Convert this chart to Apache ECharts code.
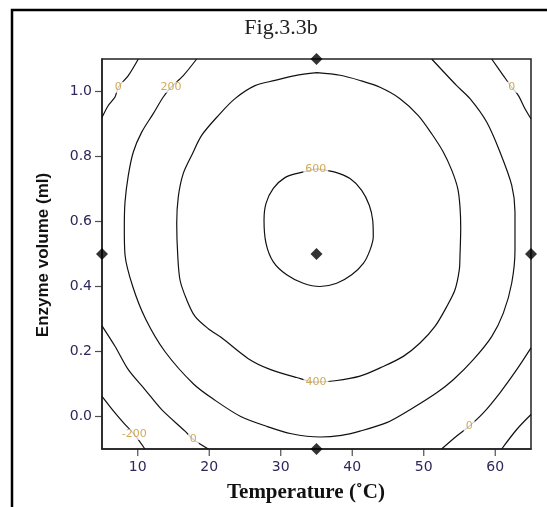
<!DOCTYPE html>
<html>
<head>
<meta charset="utf-8">
<script src="https://cdn.jsdelivr.net/npm/echarts@6.0.0/dist/echarts.min.js"></script>
<style>
  html, body { margin: 0; padding: 0; background: #fff; }
  #chart { width: 547px; height: 507px; }
</style>
</head>
<body>
<div id="chart"></div>
<script>
// axis ranges and tick values
var xRange = [5, 65]
var yRange = [-0.1, 1.1]
var xTicks = [10, 20, 30, 40, 50, 60]
var yTicks = [0, 0.2, 0.4, 0.6, 0.8, 1.0]

// design points (diamonds)
var designX = [35, 5, 35, 65, 35]
var designY = [1.1, 0.5, 0.5, 0.5, -0.1]

// contour lines: [temperature, enzyme volume]
var contour600 = [[35, 0.762], [37.59, 0.752], [39.69, 0.732], [41.32, 0.696], [42.38, 0.65], [42.86, 0.604], [42.94, 0.553], [42.48, 0.512], [41.55, 0.471], [39.92, 0.436], [37.83, 0.41], [35.49, 0.4], [33.15, 0.41], [30.83, 0.436], [28.96, 0.476], [27.94, 0.533], [27.66, 0.604], [27.94, 0.656], [28.96, 0.702], [30.59, 0.735], [32.45, 0.749], [35, 0.762]]
var contour400 = [[35.07, 1.058], [38.3, 1.05], [41.08, 1.034], [43.88, 1.013], [46.68, 0.978], [49.24, 0.926], [51.11, 0.87], [52.73, 0.814], [53.91, 0.758], [54.75, 0.702], [55.07, 0.645], [55.17, 0.579], [55.07, 0.497], [54.97, 0.451], [54.37, 0.39], [53.21, 0.338], [51.57, 0.277], [49.48, 0.226], [47.14, 0.185], [44.34, 0.154], [41.08, 0.124], [37.59, 0.11], [34.93, 0.106], [32.23, 0.12], [28.5, 0.145], [25.46, 0.178], [21.74, 0.242], [19.87, 0.27], [18.01, 0.308], [16.85, 0.359], [15.91, 0.42], [15.59, 0.497], [15.45, 0.594], [15.67, 0.676], [16.37, 0.748], [17.55, 0.804], [18.94, 0.865], [21.27, 0.926], [23.6, 0.978], [26.4, 1.018], [29.2, 1.034], [32.0, 1.049], [35.07, 1.058]]
var contour200 = [[18.24, 1.1], [16.37, 1.049], [14.65, 1.013], [13.57, 0.983], [12.17, 0.932], [10.55, 0.875], [9.38, 0.814], [8.68, 0.742], [8.22, 0.66], [8.12, 0.579], [8.22, 0.497], [9.3, 0.4], [11.1, 0.3], [13.8, 0.2], [17.8, 0.1], [20.8, 0.05], [24.4, 0.0], [28.0, -0.03], [31.5, -0.053], [35.5, -0.063], [38.5, -0.058], [41.08, -0.045], [44.82, -0.019], [48.08, 0.021], [51.81, 0.073], [54.13, 0.113], [56.93, 0.175], [59.5, 0.246], [61.13, 0.318], [62.3, 0.41], [62.76, 0.512], [62.76, 0.63], [62.3, 0.712], [60.66, 0.814], [58.8, 0.906], [56.47, 0.978], [54.61, 1.018], [51.11, 1.1]]
var contour0TopLeft = [[10.08, 1.1], [8.68, 1.049], [7.28, 1.013], [6.82, 0.983], [5.88, 0.957], [5, 0.92]]
var contour0TopRight = [[59.5, 1.1], [61.13, 1.049], [62.3, 1.013], [63.22, 0.988], [64.16, 0.947], [65, 0.916]]
var contour0BottomLeft = [[5, 0.279], [6.82, 0.216], [8.68, 0.144], [11.01, 0.083], [13.35, 0.021], [16.61, -0.045], [17.77, -0.071], [19.87, -0.1]]
var contour0BottomRight = [[65, 0.211], [63.0, 0.144], [60.66, 0.073], [58.33, 0.011], [56.36, -0.03], [54.61, -0.06], [52.5, -0.1]]
var contourM200Left = [[5, 0.062], [6.82, 0.011], [8.08, -0.021], [9.52, -0.055], [11.0, -0.1]]
var contourM200Right = [[65, 0.006], [63.0, -0.04], [60.9, -0.1]]

// contour labels
var labelText = ['0', '200', '0', '600', '400', '-200', '0', '0']
var labelX = [7.28, 14.65, 62.3, 34.9, 34.93, 9.52, 17.77, 56.36]
var labelY = [1.013, 1.013, 1.013, 0.762, 0.106, -0.055, -0.071, -0.03]

var chart = echarts.init(document.getElementById('chart'))

function contourLine(data) {
  return {
    type: 'line',
    data: data,
    symbol: 'none',
    showSymbol: false,
    smooth: 0.3,
    silent: true,
    z: 2,
    lineStyle: { color: '#111', width: 1.2 }
  }
}

// outward tick marks drawn as thin rect symbols at the tick values
function tickSeries(data, size, offset) {
  return {
    type: 'scatter',
    symbol: 'rect',
    symbolSize: size,
    symbolOffset: offset,
    clip: false,
    silent: true,
    z: 6,
    itemStyle: { color: '#222' },
    data: data
  }
}

var tickLabelStyle = {
  color: '#30265a',
  fontFamily: 'DejaVu Sans',
  fontSize: 14,
  showMinLabel: false,
  showMaxLabel: false
}

var option = {
  animation: false,
  backgroundColor: '#fff',
  grid: {
    left: 102,
    top: 59,
    width: 429,
    height: 390,
    show: true,
    borderColor: '#222',
    borderWidth: 1.5,
    backgroundColor: 'transparent'
  },
  xAxis: {
    type: 'value',
    min: xRange[0],
    max: xRange[1],
    axisLine: { show: true, onZero: false, lineStyle: { color: '#222', width: 1.5 } },
    splitLine: { show: false },
    axisTick: { show: false },
    axisLabel: Object.assign({ margin: 11 }, tickLabelStyle)
  },
  yAxis: {
    type: 'value',
    min: yRange[0],
    max: yRange[1],
    axisLine: { show: true, onZero: false, lineStyle: { color: '#222', width: 1.5 } },
    splitLine: { show: false },
    axisTick: { show: false },
    axisLabel: Object.assign({
      margin: 10,
      formatter: function(v) { return v.toFixed(1) }
    }, tickLabelStyle)
  },
  series: [
    contourLine(contour600),
    contourLine(contour400),
    contourLine(contour200),
    contourLine(contour0TopLeft),
    contourLine(contour0TopRight),
    contourLine(contour0BottomLeft),
    contourLine(contour0BottomRight),
    contourLine(contourM200Left),
    contourLine(contourM200Right),
    tickSeries(xTicks.map(function(v) { return [v, yRange[0]] }), [1.2, 7], [0, 3.5]),
    tickSeries(yTicks.map(function(v) { return [xRange[0], v] }), [7, 1.2], [-3.5, 0]),
    {
      type: 'scatter',
      symbolSize: 0,
      silent: true,
      z: 3,
      data: labelX.map(function(x, i) { return [x, labelY[i]] }),
      label: {
        show: true,
        position: 'inside',
        formatter: function(p) { return labelText[p.dataIndex] },
        color: '#c4952f',
        fontFamily: 'DejaVu Sans',
        fontSize: 11,
        backgroundColor: '#fff',
        padding: [0, 2]
      }
    },
    {
      type: 'scatter',
      symbol: 'diamond',
      symbolSize: [12, 12],
      clip: false,
      silent: true,
      z: 5,
      itemStyle: { color: '#000' },
      data: designX.map(function(x, i) { return [x, designY[i]] })
    }
  ],
  graphic: [
    {
      type: 'rect',
      silent: true,
      shape: { x: 12, y: 10, width: 600, height: 600 },
      style: { fill: 'none', stroke: '#000', lineWidth: 2.5 }
    },
    {
      type: 'text',
      x: 281,
      y: 28,
      style: {
        text: 'Fig.3.3b',
        font: '22px "Liberation Serif"',
        fill: '#222',
        align: 'center',
        verticalAlign: 'middle'
      }
    },
    {
      type: 'text',
      x: 306,
      y: 493,
      style: {
        text: 'Temperature (˚C)',
        font: 'bold 21px "Liberation Serif"',
        fill: '#111',
        align: 'center',
        verticalAlign: 'middle'
      }
    },
    {
      type: 'text',
      x: 43,
      y: 255,
      rotation: Math.PI / 2,
      style: {
        text: 'Enzyme volume (ml)',
        font: 'bold 17px "Liberation Sans"',
        fill: '#111',
        align: 'center',
        verticalAlign: 'middle'
      }
    }
  ]
}

chart.setOption(option)
window.addEventListener('resize', function() {
  chart.resize()
})
</script>
</body>
</html>
